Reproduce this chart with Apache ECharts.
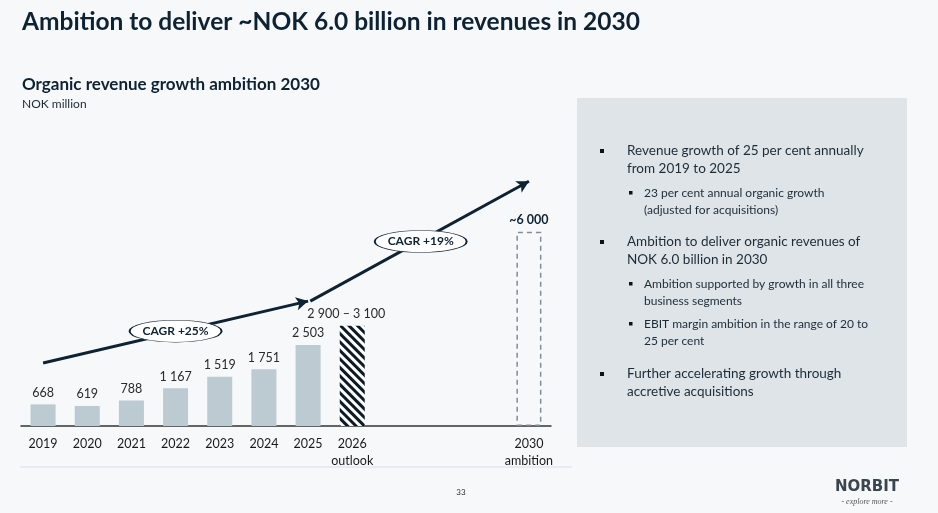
<!DOCTYPE html>
<html>
<head>
<meta charset="utf-8">
<script src="https://cdn.jsdelivr.net/npm/echarts@6/dist/echarts.min.js"></script>
<style>
  html, body { margin: 0; padding: 0; background: #f7f8fa; }
  #chart { width: 938px; height: 513px; }
</style>
</head>
<body>
<div id="chart"></div>
<script>
// categories on the x axis (2027-2029 stay empty)
const categories = ['2019', '2020', '2021', '2022', '2023', '2024', '2025', '2026', '2027', '2028', '2029', '2030'];
const tickLabels = ['2019', '2020', '2021', '2022', '2023', '2024', '2025', '2026\noutlook', '', '', '', '2030\nambition'];

// actual revenue, NOK million
const revenue = [668, 619, 788, 1167, 1519, 1751, 2503];
// outlook and ambition
const outlook2026 = 3100;
const outlookLabel = '2 900 – 3 100';
const ambition2030 = 6000;
const ambitionLabel = '~6 000';

// growth arrows [x index, value] and their CAGR badges
const arrow1 = [[0, 1944], [6, 3858]];
const arrow2 = [[6.05, 3858], [11, 7560]];
const cagrPoints = [[3, 2930], [8.55, 5700]];
const cagrLabels = ['CAGR +25%', 'CAGR +19%'];

// right panel bullets: [level, lines]
const bullets = [
    [0, ['Revenue growth of 25 per cent annually', 'from 2019 to 2025']],
    [1, ['23 per cent annual organic growth', '(adjusted for acquisitions)']],
    [0, ['Ambition to deliver organic revenues of', 'NOK 6.0 billion in 2030']],
    [1, ['Ambition supported by growth in all three', 'business segments']],
    [1, ['EBIT margin ambition in the range of 20 to', '25 per cent']],
    [0, ['Further accelerating growth through', 'accretive acquisitions']]
];
const bulletTops = [151, 193, 242, 284, 324, 374];

const FONT = 'Lato';
const NAVY = '#0d2233';

function fmt(v) {
    return String(v).replace(/\B(?=(\d{3})+(?!\d))/g, ' ');
}

const chart = echarts.init(document.getElementById('chart'));

// bar data: actuals, hatched outlook, dashed ambition
const barData = categories.map((c, i) => {
    if (i < revenue.length) return revenue[i];
    if (c === '2026') {
        return {
            value: outlook2026,
            itemStyle: {
                color: '#ffffff',
                decal: {
                    symbol: 'rect',
                    color: '#0b1a26',
                    dashArrayX: [1, 0],
                    dashArrayY: [2.5, 3],
                    rotation: Math.PI / 4
                }
            },
            label: { formatter: outlookLabel, offset: [-6, 0] }
        };
    }
    if (c === '2030') {
        return {
            value: ambition2030,
            itemStyle: {
                color: 'rgba(0,0,0,0)',
                borderColor: '#7f8e9b',
                borderWidth: 1.5,
                borderType: [5, 4]
            },
            label: { formatter: ambitionLabel, fontWeight: 'bold', color: NAVY }
        };
    }
    return null;
});

// panel graphics
const panel = [{
    type: 'rect',
    shape: { x: 577, y: 98, width: 330, height: 349 },
    style: { fill: '#dee4e8' },
    z: -1
}];
bullets.forEach((b, k) => {
    const lvl = b[0];
    const top = bulletTops[k];
    const size = lvl === 0 ? 13.5 : 12;
    const lh = lvl === 0 ? 18 : 17;
    const bx = lvl === 0 ? 600 : 629;
    const tx = lvl === 0 ? 627 : 644;
    panel.push({
        type: 'rect',
        shape: { x: bx, y: top - 2, width: lvl === 0 ? 4 : 3.5, height: lvl === 0 ? 4 : 3.5 },
        style: { fill: '#111' }
    });
    b[1].forEach((line, j) => {
        panel.push({
            type: 'text',
            x: tx, y: top + j * lh,
            style: {
                text: line, fill: '#1e2b36', font: size + 'px ' + FONT,
                textVerticalAlign: 'middle'
            }
        });
    });
});

const texts = [
    { type: 'text', x: 22, y: 22, style: { text: 'Ambition to deliver ~NOK 6.0 billion in revenues in 2030', fill: NAVY, font: 'bold 24.5px ' + FONT, textVerticalAlign: 'middle' } },
    { type: 'text', x: 22, y: 85, style: { text: 'Organic revenue growth ambition 2030', fill: NAVY, font: 'bold 17px ' + FONT, textVerticalAlign: 'middle' } },
    { type: 'text', x: 22, y: 104, style: { text: 'NOK million', fill: '#1e2b36', font: '12px ' + FONT, textVerticalAlign: 'middle' } },
    { type: 'line', shape: { x1: 20, y1: 467, x2: 572, y2: 467 }, style: { stroke: '#e3e7eb', lineWidth: 1.5 } },
    { type: 'text', x: 461, y: 492, style: { text: '33', fill: '#333', font: '8px ' + FONT, textAlign: 'center', textVerticalAlign: 'middle' } },
    { type: 'text', x: 867, y: 487, style: { text: 'NORBIT', fill: '#3a4550', font: 'bold 15px "DejaVu Sans"', textAlign: 'center', textVerticalAlign: 'middle' } },
    { type: 'text', x: 867, y: 502, style: { text: '- explore more -', fill: '#555', font: 'italic 8px serif', textAlign: 'center', textVerticalAlign: 'middle' } }
];

const option = {
    backgroundColor: '#f7f8fa',
    animation: false,
    textStyle: { fontFamily: FONT },
    grid: { left: 21, width: 530, top: 167, bottom: 87 },
    xAxis: [{
        type: 'category',
        data: categories,
        axisLine: { lineStyle: { color: '#333', width: 1.5 } },
        axisTick: { show: false },
        axisLabel: {
            interval: 0,
            color: '#1a1a1a',
            fontSize: 12.5,
            lineHeight: 17,
            margin: 9,
            formatter: (v, i) => tickLabels[i]
        }
    }, {
        type: 'value',
        min: -0.5,
        max: 11.5,
        show: false
    }],
    yAxis: {
        type: 'value',
        min: 0,
        max: 8000,
        show: false,
        splitLine: { show: false }
    },
    series: [{
        type: 'bar',
        data: barData,
        barWidth: 25,
        itemStyle: { color: '#bccad2' },
        label: {
            show: true,
            position: 'top',
            distance: 5,
            color: '#2a2a2a',
            fontSize: 12.5,
            formatter: p => fmt(p.value)
        },
        z: 2
    }, {
        type: 'scatter',
        xAxisIndex: 1,
        data: [],
        z: 3,
        markLine: {
            silent: true,
            symbol: ['none', 'arrow'],
            symbolSize: [10, 12],
            label: { show: false },
            lineStyle: { color: NAVY, width: 3, type: 'solid' },
            data: [
                [{ coord: arrow1[0] }, { coord: arrow1[1] }],
                [{ coord: arrow2[0], lineStyle: { curveness: -0.05 } }, { coord: arrow2[1] }]
            ]
        }
    }, {
        type: 'scatter',
        xAxisIndex: 1,
        data: cagrPoints,
        symbol: 'circle',
        symbolSize: [92, 22],
        itemStyle: { color: '#ffffff', borderColor: NAVY, borderWidth: 1, opacity: 1 },
        label: {
            show: true,
            position: 'inside',
            color: NAVY,
            fontWeight: 'bold',
            fontSize: 12,
            formatter: p => cagrLabels[p.dataIndex]
        },
        z: 5
    }],
    graphic: panel.concat(texts)
};

chart.setOption(option);
</script>
</body>
</html>
